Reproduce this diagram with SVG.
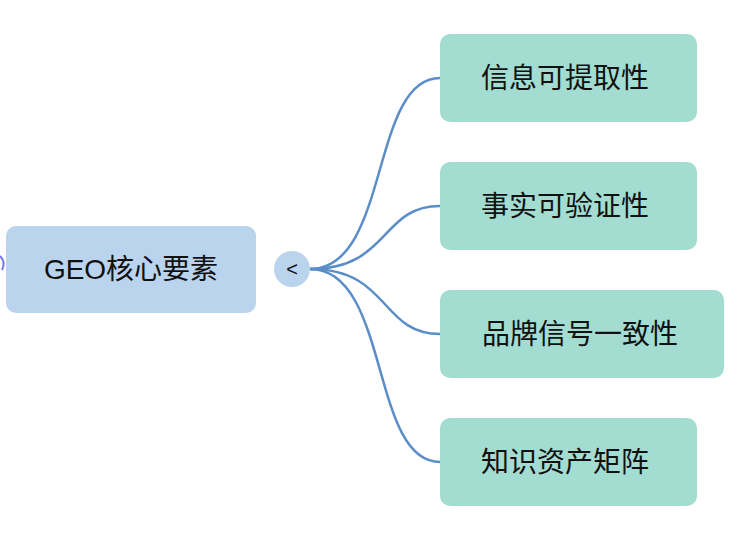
<svg xmlns="http://www.w3.org/2000/svg" width="755" height="537" viewBox="0 0 755 537">
<style>
.t{font-family:"Liberation Sans","Noto Sans CJK SC",sans-serif;font-size:28px;fill:#111;dominant-baseline:central;text-anchor:middle}
.leaf{fill:#a3dcd1}
.c{fill:none;stroke:#5b8ec7;stroke-width:2.5}
</style>
<g id="connectors">
<path d="M0,256 Q6,262 2,270" fill="none" stroke="#7a7ae6" stroke-width="2"/>
<path class="c" d="M310,269 C390,269 370,78 440,78"/>
<path class="c" d="M310,269 C390,269 380,206 440,206"/>
<path class="c" d="M310,269 C390,269 380,334 440,334"/>
<path class="c" d="M310,269 C390,269 370,462 440,462"/>
</g>
<g id="root"><rect x="6" y="226" width="250" height="87" rx="10" fill="#bad4ee"/><text class="t" x="131" y="269">GEO核心要素</text></g>
<g id="toggle"><circle cx="292" cy="269" r="18" fill="#bad4ee"/><text class="t" x="292" y="269" style="font-size:20px">&lt;</text></g>
<g id="n1"><rect class="leaf" x="440" y="34" width="257" height="88" rx="10"/><text class="t" x="565" y="78">信息可提取性</text></g>
<g id="n2"><rect class="leaf" x="440" y="162" width="257" height="88" rx="10"/><text class="t" x="565" y="206">事实可验证性</text></g>
<g id="n3"><rect class="leaf" x="440" y="290" width="284" height="88" rx="10"/><text class="t" x="580" y="334">品牌信号一致性</text></g>
<g id="n4"><rect class="leaf" x="440" y="418" width="257" height="88" rx="10"/><text class="t" x="565" y="462">知识资产矩阵</text></g>
</svg>
